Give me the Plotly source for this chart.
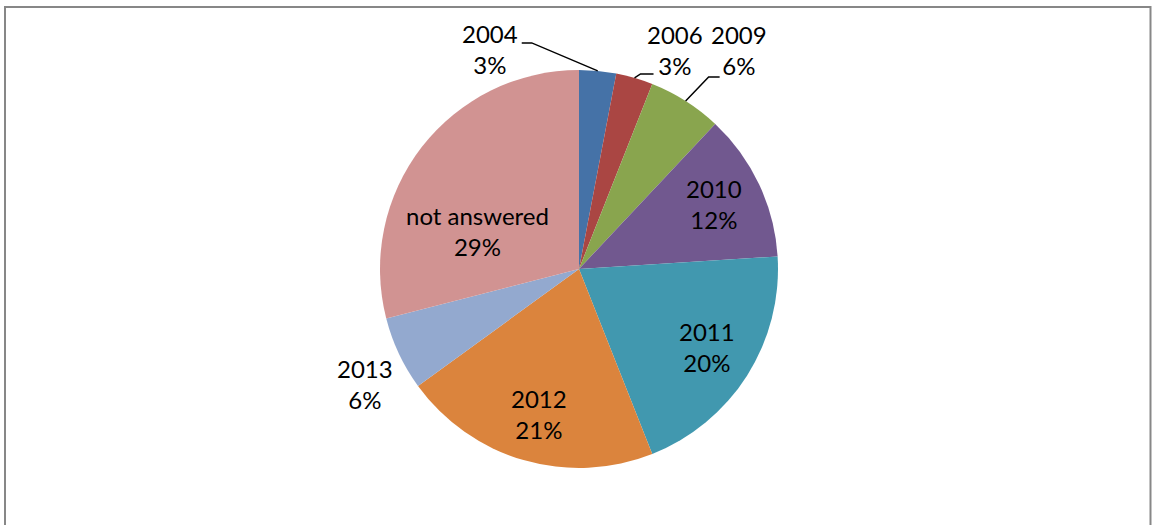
import math
import plotly.graph_objects as go

labels = ["2004", "2006", "2009", "2010", "2011", "2012", "2013", "not answered"]
values = [3, 3, 6, 12, 20, 21, 6, 29]
colors = ["#4572A7", "#AA4643", "#89A54E", "#71588F", "#4198AF", "#DB843D", "#93A9CF", "#D19392"]

W, H = 1152, 525
cx, cy, r = 579, 269, 199
FONT = dict(family="Lato", size=24, color="black")

# label placement: radius fraction along slice mid-angle, pixel shift of text,
# optional leader polyline (pixel offsets from the slice-edge midpoint)
placement = {
    "2004": dict(f=1.0, text=(-108, -22), leader=[(-66, -28), (-76, -28)]),
    "2006": dict(f=1.0, text=(40, -28), leader=[(6, -4), (19, -4)]),
    "2009": dict(f=1.0, text=(53, -51), leader=[(23, -24), (34, -24)]),
    "2010": dict(f=0.76, text=(-2, -1), leader=None),
    "2011": dict(f=0.76, text=(0, -3), leader=None),
    "2012": dict(f=0.76, text=(2, 0), leader=None),
    "2013": dict(f=1.0, text=(-34, 30), leader=None),
    "not answered": dict(f=0.76, text=(18, 55), leader=None),
}

fig = go.Figure(go.Pie(
    labels=labels,
    values=values,
    sort=False,
    direction="clockwise",
    rotation=0,
    marker=dict(colors=colors, line=dict(width=0)),
    textinfo="none",
    showlegend=False,
    hoverinfo="label+percent",
    domain=dict(x=[(cx - r) / W, (cx + r) / W], y=[1 - (cy + r) / H, 1 - (cy - r) / H]),
))

total = sum(values)
annotations = []
shapes = [dict(type="rect", xref="paper", yref="paper",
               x0=5 / W, x1=1150.5 / W, y0=-0.1, y1=1 - 7 / H,
               line=dict(color="#878787", width=2), fillcolor="rgba(0,0,0,0)")]
cum = 0
for lab, val in zip(labels, values):
    mid = (cum + val / 2) / total * 2 * math.pi
    cum += val
    spec = placement[lab]
    edge_x = cx + r * math.sin(mid)
    edge_y = cy - r * math.cos(mid)
    px = cx + spec["f"] * r * math.sin(mid)
    py = cy - spec["f"] * r * math.cos(mid)
    tx, ty = spec["text"]
    annotations.append(dict(
        x=px / W, y=1 - py / H, xref="paper", yref="paper",
        xshift=tx, yshift=-ty, showarrow=False,
        text=f"{lab}<br>{val}%", font=FONT, align="center",
        xanchor="center", yanchor="middle",
    ))
    if spec["leader"]:
        pts = [(edge_x, edge_y)] + [(edge_x + dx, edge_y + dy) for dx, dy in spec["leader"]]
        path = "M " + " L ".join(f"{qx / W:.5f},{1 - qy / H:.5f}" for qx, qy in pts)
        shapes.append(dict(type="path", xref="paper", yref="paper", path=path,
                           line=dict(color="black", width=1.5)))

fig.update_layout(
    width=W, height=H,
    margin=dict(l=0, r=0, t=0, b=0, autoexpand=False),
    paper_bgcolor="white",
    shapes=shapes,
    annotations=annotations,
)

fig.write_html("out.html", config={"displayModeBar": False},
               post_script="document.body.style.margin='0';")
